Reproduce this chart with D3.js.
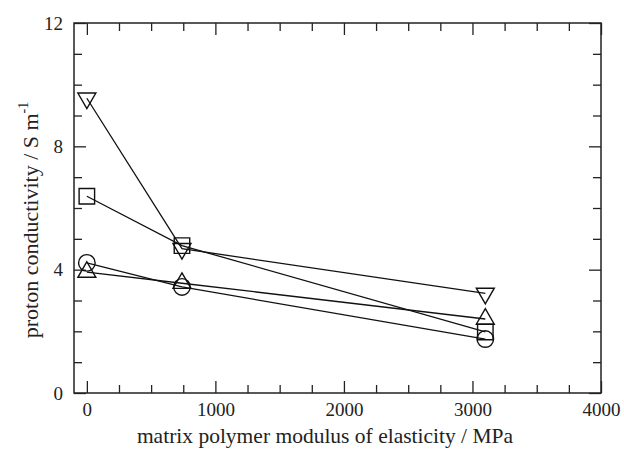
<!DOCTYPE html>
<html>
<head>
<meta charset="utf-8">
<script src="https://cdn.jsdelivr.net/npm/d3@7"></script>
<style>
  body { margin: 0; background: #fff; }
</style>
</head>
<body>
<div id="chart"></div>
<script>
// Data
const modulus = [0, 740, 3100];
const invTriangle = [9.56, 4.68, 3.23];
const square = [6.38, 4.78, 1.98];
const circle = [4.22, 3.44, 1.75];
const triangle = [3.92, 3.56, 2.4];

const xTicks = [0, 1000, 2000, 3000, 4000];
const yTicks = [0, 4, 8, 12];

const series = [
  { name: 'invTriangle', values: invTriangle, symbol: 'down' },
  { name: 'square', values: square, symbol: 'square' },
  { name: 'circle', values: circle, symbol: 'circle' },
  { name: 'triangle', values: triangle, symbol: 'up' }
];

const FONT = "'Liberation Serif', 'Times New Roman', Times, 'DejaVu Serif', serif";

// Chart dimensions
const W = 624, H = 452;
const margin = { top: 23, right: 23, bot: 59, left: 74 };
const width = W - margin.left - margin.right;
const height = H - margin.top - margin.bot;

const xScale = d3.scaleLinear().domain([-100, 4000]).range([0, width]);
const yScale = d3.scaleLinear().domain([0, 12]).range([height, 0]);

const svg = d3.select('#chart').append('svg')
  .attr('width', W)
  .attr('height', H)
  .attr('font-family', FONT);

const g = svg.append('g')
  .attr('transform', `translate(${margin.left}, ${margin.top})`);

// Axes, ticks pointing inward
const minorX = d3.range(0, 4001, 250).filter(v => v % 1000 !== 0);
const minorY = d3.range(0, 13, 1).filter(v => v % 4 !== 0);

function styleAxis(sel) {
  sel.attr('font-family', FONT);
  sel.select('.domain').remove();
  sel.selectAll('line').attr('stroke', '#222').attr('stroke-width', 1.3);
  sel.selectAll('text')
    .attr('fill', '#222')
    .style('font-size', '19px');
}

g.append('g')
  .attr('transform', `translate(0, ${height})`)
  .call(d3.axisBottom(xScale).tickValues(xTicks).tickSize(-12).tickPadding(10).tickFormat(d3.format('d')))
  .call(styleAxis);
g.append('g')
  .attr('transform', `translate(0, ${height})`)
  .call(d3.axisBottom(xScale).tickValues(minorX).tickSize(-8).tickFormat(''))
  .call(styleAxis);
g.append('g')
  .call(d3.axisTop(xScale).tickValues(xTicks).tickSize(-12).tickFormat(''))
  .call(styleAxis);
g.append('g')
  .call(d3.axisTop(xScale).tickValues(minorX).tickSize(-8).tickFormat(''))
  .call(styleAxis);

g.append('g')
  .call(d3.axisLeft(yScale).tickValues(yTicks).tickSize(-12).tickPadding(11).tickFormat(d3.format('d')))
  .call(styleAxis);
g.append('g')
  .call(d3.axisLeft(yScale).tickValues(minorY).tickSize(-8).tickFormat(''))
  .call(styleAxis);
g.append('g')
  .attr('transform', `translate(${width}, 0)`)
  .call(d3.axisRight(yScale).tickValues(yTicks).tickSize(-12).tickFormat(''))
  .call(styleAxis);
g.append('g')
  .attr('transform', `translate(${width}, 0)`)
  .call(d3.axisRight(yScale).tickValues(minorY).tickSize(-8).tickFormat(''))
  .call(styleAxis);

// Frame
g.append('rect')
  .attr('width', width)
  .attr('height', height)
  .attr('fill', 'none')
  .attr('stroke', '#222')
  .attr('stroke-width', 1.5);

// Lines
const line = d3.line()
  .x((d, i) => xScale(modulus[i]))
  .y(d => yScale(d));

g.selectAll('.series-line')
  .data(series)
  .enter().append('path')
  .attr('class', 'series-line')
  .attr('d', d => line(d.values))
  .attr('fill', 'none')
  .attr('stroke', '#111')
  .attr('stroke-width', 1.3);

// Markers
const symbols = {
  square: d3.symbol().type(d3.symbolSquare).size(240),
  circle: d3.symbol().type(d3.symbolCircle).size(215),
  up: d3.symbol().type(d3.symbolTriangle).size(140),
  down: d3.symbol().type(d3.symbolTriangle).size(140)
};

series.forEach(s => {
  g.selectAll(`.pt-${s.name}`)
    .data(s.values)
    .enter().append('path')
    .attr('class', `pt-${s.name}`)
    .attr('d', symbols[s.symbol])
    .attr('transform', (d, i) =>
      `translate(${xScale(modulus[i])}, ${yScale(d)})` + (s.symbol === 'down' ? ' rotate(180)' : ''))
    .attr('fill', 'none')
    .attr('stroke', '#111')
    .attr('stroke-width', 1.4);
});

// Axis titles
svg.append('text')
  .attr('x', 325)
  .attr('y', 443)
  .attr('text-anchor', 'middle')
  .attr('fill', '#222')
  .style('font-size', '21.5px')
  .text('matrix polymer modulus of elasticity / MPa');

const yTitle = svg.append('text')
  .attr('transform', 'translate(38, 220) rotate(-90)')
  .attr('text-anchor', 'middle')
  .attr('fill', '#222')
  .style('font-size', '22px');
yTitle.append('tspan').text('proton conductivity / S m');
yTitle.append('tspan').attr('dy', -10).style('font-size', '14px').text('-1');
</script>
</body>
</html>
